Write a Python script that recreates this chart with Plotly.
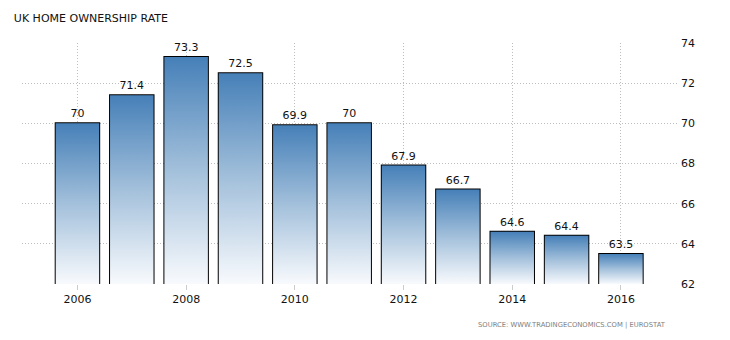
import plotly.graph_objects as go

years = [2006, 2007, 2008, 2009, 2010, 2011, 2012, 2013, 2014, 2015, 2016]
rates = [70.0, 71.4, 73.3, 72.5, 69.9, 70.0, 67.9, 66.7, 64.6, 64.4, 63.5]
labels = ["70", "71.4", "73.3", "72.5", "69.9", "70", "67.9", "66.7", "64.6", "64.4", "63.5"]
y_ticks = [62, 64, 66, 68, 70, 72, 74]
x_ticks = [2006, 2008, 2010, 2012, 2014, 2016]

BASE = 62
HALF = 0.4
FONT = "DejaVu Sans"

fig = go.Figure()

# gradient-filled bar bodies
for yr, v in zip(years, rates):
    fig.add_trace(go.Scatter(
        x=[yr - HALF, yr + HALF, yr + HALF, yr - HALF, yr - HALF],
        y=[BASE, BASE, v, v, BASE],
        mode="lines", line=dict(width=0, color="rgba(0,0,0,0)"),
        fill="toself",
        fillgradient=dict(type="vertical",
                          colorscale=[[0, "#f8fafd"], [0.5, "#a3c0db"], [1, "#4680b8"]]),
        hoverinfo="skip", showlegend=False,
    ))

# outlines + labels
fig.add_trace(go.Bar(
    x=years, y=[v - BASE for v in rates], base=BASE, width=2 * HALF,
    marker=dict(color="rgba(0,0,0,0)", line=dict(color="#000000", width=2)),
    text=labels, textposition="outside", cliponaxis=False,
    textfont=dict(family=FONT, size=11, color="#111111"),
    showlegend=False,
))

fig.update_layout(
    width=730, height=340,
    margin=dict(l=22, r=52, t=43, b=56),
    paper_bgcolor="white", plot_bgcolor="white",
    font=dict(family=FONT, size=11, color="#111111"),
    title=dict(text="UK HOME OWNERSHIP RATE", x=0.019, xanchor="left", y=0.947, yanchor="middle",
               font=dict(family=FONT, size=11, color="#111111")),
    bargap=0.2,
    xaxis=dict(range=[2004.98, 2017.05], tickvals=x_ticks, ticktext=[str(t) for t in x_ticks],
               showgrid=True, gridcolor="#bdbdbd", griddash="1px,2px", gridwidth=1,
               ticks="outside", ticklen=5, tickcolor="#cccccc", zeroline=False,
               showline=False, tickfont=dict(family=FONT, size=11, color="#111111")),
    yaxis=dict(range=[62, 74], tickvals=y_ticks, side="right",
               showgrid=True, gridcolor="#bdbdbd", griddash="1px,2px", gridwidth=1,
               zeroline=False, showline=False, ticks="", ticklabelstandoff=2,
               tickfont=dict(family=FONT, size=11, color="#111111")),
    annotations=[dict(text="SOURCE: WWW.TRADINGECONOMICS.COM | EUROSTAT",
                      xref="paper", yref="paper", x=0.985, y=-0.17, xanchor="right", yanchor="middle",
                      showarrow=False, font=dict(family=FONT, size=6.8, color="#808080"))],
)

fig.write_html("out.html")
